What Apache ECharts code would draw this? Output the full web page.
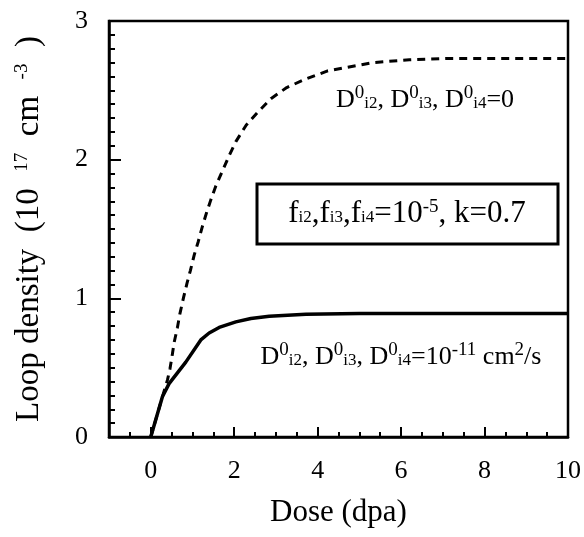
<!DOCTYPE html>
<html>
<head>
<meta charset="utf-8">
<script src="https://cdn.jsdelivr.net/npm/echarts@6/dist/echarts.min.js"></script>
<style>
    html, body {margin: 0; padding: 0; background: #fff;}
    #chart {width: 584px; height: 537px;}
</style>
</head>
<body>
<div id="chart"></div>
<script>
// D0 = 1e-11 cm2/s (solid)
var doseSolid = [0, 0.28, 0.44, 0.84, 1.2, 1.4, 1.64, 2.04, 2.4, 2.84, 3.72, 5, 10];
var densitySolid = [0, 0.29, 0.385, 0.54, 0.70, 0.75, 0.79, 0.83, 0.855, 0.87, 0.885, 0.89, 0.89];
// D0 = 0 (dashed)
var doseDashed = [0, 0.28, 0.4, 0.46, 0.51, 0.56, 0.64, 0.70, 0.79, 0.87, 0.95, 1.04, 1.14, 1.23, 1.34, 1.44,
    1.56, 1.72, 1.88, 2.04, 2.29, 2.56, 2.88, 3.26, 3.7, 4.24, 5.32, 6.2, 7.1, 10];
var densityDashed = [0, 0.29, 0.41, 0.49, 0.58, 0.68, 0.79, 0.89, 1.01, 1.11, 1.20, 1.31, 1.41, 1.51, 1.62, 1.71,
    1.81, 1.92, 2.03, 2.13, 2.25, 2.34, 2.44, 2.52, 2.58, 2.64, 2.70, 2.72, 2.73, 2.73];
var xLabels = [0, 2, 4, 6, 8, 10];
var xMajorTicks = [0, 2, 4, 6, 8];
var yLabels = [0, 1, 2, 3];
var yMajorTicks = [1, 2];

var serif = '"Liberation Serif", "DejaVu Serif", serif';
var sup = {fontSize: 19, fontFamily: serif, color: '#000', verticalAlign: 'bottom', padding: [0, 0, 14, 0]};
var sub = {fontSize: 17, fontFamily: serif, color: '#000', verticalAlign: 'top', padding: [12, 0, 0, 0]};

function pairs(xs, ys) {
    var out = [];
    for(var i in xs) {
        out.push([xs[i], ys[i]]);
    }
    return out;
}

var chart = echarts.init(document.getElementById('chart'));
chart.setOption({
    animation: false,
    backgroundColor: '#fff',
    grid: {
        left: 109, right: 15, top: 21, bottom: 100,
        show: true, borderColor: '#000', borderWidth: 2.5
    },
    xAxis: [{
        type: 'value', min: -1, max: 10, interval: 0.5,
        position: 'bottom',
        name: 'Dose (dpa)', nameLocation: 'middle', nameGap: 60,
        nameTextStyle: {fontFamily: serif, fontSize: 31, color: '#000'},
        axisLine: {onZero: false, lineStyle: {color: '#000', width: 2.5}},
        axisTick: {inside: true, length: 5, lineStyle: {color: '#000', width: 2}},
        axisLabel: {customValues: xLabels, fontFamily: serif, fontSize: 26, color: '#000', margin: 21},
        splitLine: {show: false}
    }, {
        type: 'value', min: -1, max: 10,
        position: 'bottom',
        axisLine: {show: false, onZero: false},
        axisTick: {inside: true, length: 10, customValues: xMajorTicks, lineStyle: {color: '#000', width: 2}},
        axisLabel: {show: false},
        splitLine: {show: false}
    }],
    yAxis: [{
        type: 'value', min: 0, max: 3, interval: 0.1,
        position: 'left',
        name: 'Loop density  (10  {sup|17}  cm  {sup|-3}  )', nameLocation: 'middle', nameGap: 63,
        nameTextStyle: {fontFamily: serif, fontSize: 33, color: '#000', rich: {sup: sup}},
        axisLine: {onZero: false, lineStyle: {color: '#000', width: 2.5}},
        axisTick: {inside: true, length: 6, lineStyle: {color: '#000', width: 2}},
        axisLabel: {customValues: yLabels, fontFamily: serif, fontSize: 26, color: '#000', margin: 21},
        splitLine: {show: false}
    }, {
        type: 'value', min: 0, max: 3,
        position: 'left',
        axisLine: {show: false, onZero: false},
        axisTick: {inside: true, length: 12, customValues: yMajorTicks, lineStyle: {color: '#000', width: 2}},
        axisLabel: {show: false},
        splitLine: {show: false}
    }],
    series: [{
        name: 'D0=0',
        type: 'line',
        xAxisIndex: 0, yAxisIndex: 0,
        showSymbol: false,
        data: pairs(doseDashed, densityDashed),
        lineStyle: {color: '#000', width: 3, type: [8, 6]}
    }, {
        name: 'D0=1e-11',
        type: 'line',
        xAxisIndex: 0, yAxisIndex: 0,
        showSymbol: false,
        data: pairs(doseSolid, densitySolid),
        lineStyle: {color: '#000', width: 3.5}
    }],
    graphic: [{
        type: 'text',
        x: 425, y: 100,
        style: {
            text: 'D{sup|0}{sub|i2}, D{sup|0}{sub|i3}, D{sup|0}{sub|i4}=0',
            font: '26px ' + serif, fill: '#000',
            textAlign: 'center', textVerticalAlign: 'middle',
            rich: {sup: sup, sub: sub}
        }
    }, {
        type: 'rect',
        shape: {x: 257, y: 184, width: 301, height: 60},
        style: {fill: '#fff', stroke: '#000', lineWidth: 3}
    }, {
        type: 'text',
        x: 407, y: 214,
        style: {
            text: 'f{sub|i2},f{sub|i3},f{sub|i4}=10{sup|-5}, k=0.7',
            font: '31px ' + serif, fill: '#000',
            textAlign: 'center', textVerticalAlign: 'middle',
            rich: {sup: sup, sub: sub}
        }
    }, {
        type: 'text',
        x: 401, y: 357,
        style: {
            text: 'D{sup|0}{sub|i2}, D{sup|0}{sub|i3}, D{sup|0}{sub|i4}=10{sup|-11} cm{sup|2}/s',
            font: '26px ' + serif, fill: '#000',
            textAlign: 'center', textVerticalAlign: 'middle',
            rich: {sup: sup, sub: sub}
        }
    }]
});
</script>
</body>
</html>
